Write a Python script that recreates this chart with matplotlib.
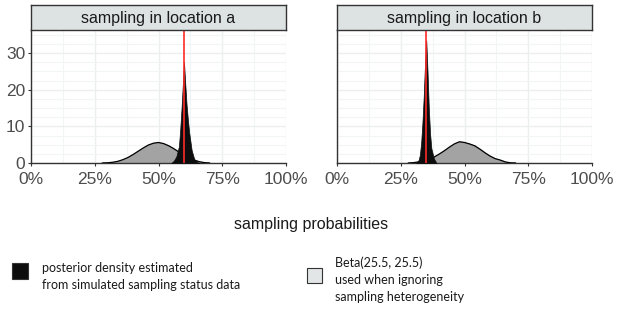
import matplotlib
matplotlib.use('Agg')
import matplotlib.pyplot as plt
from matplotlib.patches import Rectangle

# panel titles and true sampling probabilities (red lines)
panels = ['sampling in location a', 'sampling in location b']
true_p = [0.60, 0.35]

# Beta(25.5, 25.5) curve as drawn in each panel
beta_x = [0.28, 0.30, 0.32, 0.34, 0.36, 0.38, 0.40, 0.42, 0.44, 0.46, 0.48,
          0.50, 0.52, 0.54, 0.56, 0.58, 0.60, 0.62, 0.64, 0.66, 0.68, 0.70]
beta_a = [0.0, 0.05, 0.2, 0.45, 0.9, 1.5, 2.3, 3.2, 4.1, 4.9, 5.4,
          5.6, 5.3, 4.7, 3.9, 3.0, 2.1, 1.4, 0.8, 0.35, 0.1, 0.0]
beta_b = [0.0, 0.1, 0.3, 0.7, 1.1, 1.6, 2.4, 3.3, 4.3, 5.2, 5.8,
          5.6, 5.2, 4.7, 3.8, 2.8, 1.9, 1.2, 0.8, 0.3, 0.05, 0.0]

# posterior densities from simulated sampling status data
post_a_x = [0.55, 0.56, 0.57, 0.58, 0.585, 0.59, 0.595, 0.60, 0.605, 0.61,
            0.615, 0.62, 0.63, 0.64, 0.65, 0.66]
post_a_y = [0.0, 0.6, 1.8, 4.5, 9.0, 14.5, 21.0, 27.5, 21.5, 16.0,
            12.0, 8.5, 3.5, 1.1, 0.3, 0.0]
post_b_x = [0.31, 0.32, 0.325, 0.33, 0.335, 0.34, 0.345, 0.35, 0.355, 0.36,
            0.365, 0.37, 0.38, 0.39]
post_b_y = [0.0, 0.8, 2.2, 5.5, 11.0, 18.0, 27.0, 33.5, 25.0, 15.0,
            8.0, 4.0, 1.2, 0.0]

beta_y = [beta_a, beta_b]
post = [(post_a_x, post_a_y), (post_b_x, post_b_y)]

W, H = 623, 317
fig = plt.figure(figsize=(W / 100, H / 100), dpi=100)
plt.rcParams['font.family'] = ['Liberation Sans', 'DejaVu Sans']

lefts = [31, 337]
for i in range(2):
    ax = fig.add_axes([lefts[i] / W, 1 - 163 / H, 255 / W, 133 / H])
    ax.set_xlim(0, 1)
    ax.set_ylim(0, 36.3)
    ax.set_xticks([0, 0.25, 0.5, 0.75, 1.0])
    ax.set_xticklabels(['0%', '25%', '50%', '75%', '100%'])
    ax.set_xticks([0.125, 0.375, 0.625, 0.875], minor=True)
    ax.set_yticks([0, 10, 20, 30])
    ax.set_yticks([2.5 * k for k in range(15) if k % 4], minor=True)
    ax.grid(True, which='major', color='#ebefef', lw=1.0)
    ax.grid(True, which='minor', color='#f2f5f5', lw=0.8)
    ax.set_axisbelow(True)
    ax.tick_params(which='minor', length=0)
    ax.tick_params(which='major', length=2.5, color='#333333', labelsize=12.5,
                   labelcolor='#4d4d4d')
    ax.tick_params(axis='x', pad=4)
    ax.tick_params(axis='y', pad=1.5)
    if i == 1:
        ax.tick_params(axis='y', length=0, labelleft=False)
    for s in ['top', 'right']:
        ax.spines[s].set_visible(False)
    for s in ['left', 'bottom']:
        ax.spines[s].set_color('#333333')
        ax.spines[s].set_linewidth(1.0)

    ax.fill_between(beta_x, beta_y[i], color='#a3a3a3', zorder=2)
    ax.plot(beta_x, beta_y[i], color='black', lw=0.9, zorder=3)
    ax.fill_between(post[i][0], post[i][1], color='#0d0d0d', lw=0.5,
                    edgecolor='#0d0d0d', zorder=4)
    ax.axvline(true_p[i], color='#ff2a2a', lw=1.2, zorder=5)

    # facet strip
    sx = fig.add_axes([lefts[i] / W, 1 - 30 / H, 255 / W, 25 / H])
    sx.set_xticks([])
    sx.set_yticks([])
    sx.set_facecolor('#dde2e2')
    for s in sx.spines.values():
        s.set_color('#333333')
        s.set_linewidth(1.0)
    sx.text(0.5, 0.45, panels[i], ha='center', va='center', fontsize=11.5,
            color='#1a1a1a', transform=sx.transAxes)

fig.text(311 / W, 1 - 224 / H, 'sampling probabilities', ha='center',
         va='center', fontsize=11.5, color='#1a1a1a')

# legend
lfont = ['Lato', 'DejaVu Sans']
fig.patches.append(Rectangle((12 / W, 1 - 279 / H), 16 / W, 16 / H,
                             transform=fig.transFigure, facecolor='#0d0d0d',
                             edgecolor='#333333', lw=0.8))
fig.text(42 / W, 1 - 262 / H,
         'posterior density estimated\nfrom simulated sampling status data',
         ha='left', va='top', fontsize=9, family=lfont, color='#1a1a1a',
         linespacing=1.5)
fig.patches.append(Rectangle((307 / W, 1 - 283 / H), 15 / W, 15 / H,
                             transform=fig.transFigure, facecolor='#e2e6e6',
                             edgecolor='#333333', lw=0.8))
fig.text(335 / W, 1 - 256 / H,
         'Beta(25.5, 25.5)\nused when ignoring\nsampling heterogeneity',
         ha='left', va='top', fontsize=9, family=lfont, color='#1a1a1a',
         linespacing=1.5)

fig.savefig('out.png', dpi=100)
